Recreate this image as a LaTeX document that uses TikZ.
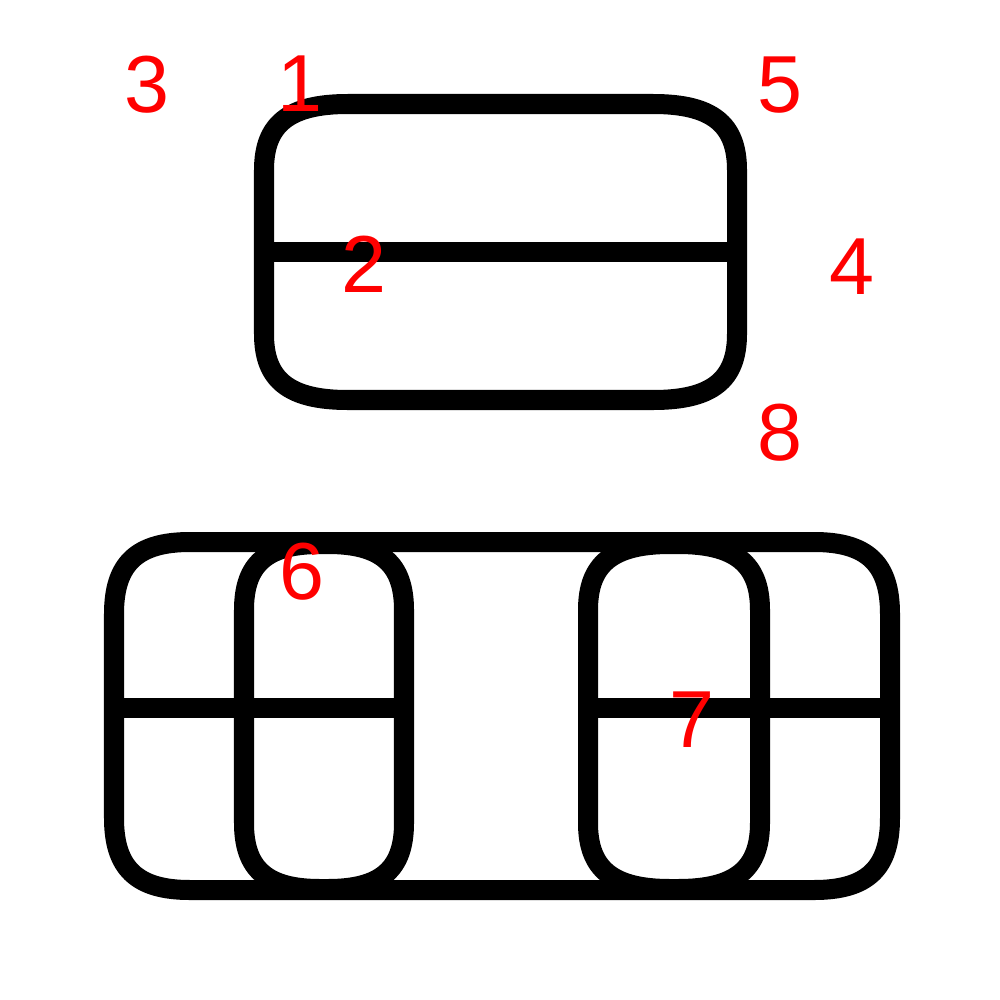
\documentclass[tikz,border=0pt]{standalone}
\usepackage{fontspec}
\setmainfont{Liberation Sans}
\usepackage{tikz}

% rounded box with soft corners: x1 y1 x2 y2 rx ry
\newcommand{\softbox}[6]{%
  \draw ({#1},{#2+#6}) -- ({#1},{#4-#6})
    .. controls ({#1},{#4-0.3*#6}) and ({#1+0.3*#5},{#4}) .. ({#1+#5},{#4})
    -- ({#3-#5},{#4})
    .. controls ({#3-0.3*#5},{#4}) and ({#3},{#4-0.3*#6}) .. ({#3},{#4-#6})
    -- ({#3},{#2+#6})
    .. controls ({#3},{#2+0.3*#6}) and ({#3-0.3*#5},{#2}) .. ({#3-#5},{#2})
    -- ({#1+#5},{#2})
    .. controls ({#1+0.3*#5},{#2}) and ({#1},{#2+0.3*#6}) .. cycle;}

\begin{document}
\begin{tikzpicture}[x=0.01cm, y=-0.01cm]
        \useasboundingbox (0,0) rectangle (1000,1000);
        \begin{scope}[every path/.style={line width=0.2cm, black, line join=round}]
                % upper box
                \softbox{264}{104}{737}{400}{84}{66}
                \coordinate (UL) at (264,252);
                \coordinate (UR) at (737,252);
                \draw (UL) -- (UR);

                % lower box
                \softbox{114}{542}{890}{890}{76}{72}
                \softbox{244}{544}{404}{889}{76}{66}
                \softbox{588}{544}{760}{889}{82}{66}
                \coordinate (LL) at (114,708);
                \coordinate (LM) at (404,708);
                \coordinate (RM) at (588,708);
                \coordinate (RR) at (890,708);
                \draw (LL) -- (LM);
                \draw (RM) -- (RR);
        \end{scope}
        \begin{scope}[every node/.style={text=red, inner sep=0, font=\fontsize{23}{27}\selectfont}]
                \node (n1) at (300,84) {1};
                \node (n2) at (364,264) {2};
                \node (n3) at (147,85) {3};
                \node (n4) at (852,267) {4};
                \node (n5) at (780,85) {5};
                \node (n6) at (302,572) {6};
                \node (n7) at (692,720) {7};
                \node (n8) at (780,433) {8};
        \end{scope}
\end{tikzpicture}
\end{document}
